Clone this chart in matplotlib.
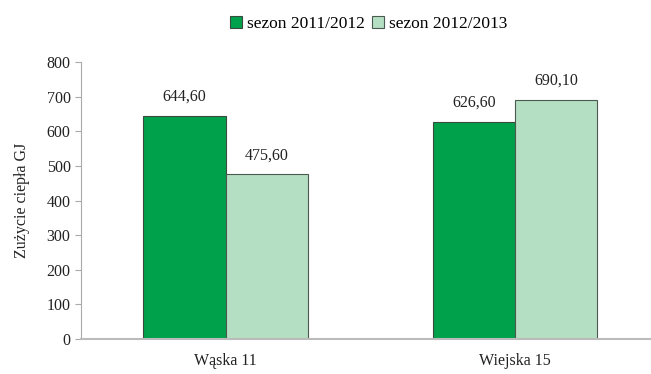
import matplotlib
matplotlib.use("Agg")
import matplotlib.pyplot as plt
import numpy as np

# ---- data --------------------------------------------------------------
categories = ["Wąska 11", "Wiejska 15"]
season_2011 = [644.60, 626.60]
season_2012 = [475.60, 690.10]
series_labels = ["sezon 2011/2012", "sezon 2012/2013"]
y_ticks = [0, 100, 200, 300, 400, 500, 600, 700, 800]

plt.rcParams["font.family"] = ["Liberation Serif", "DejaVu Serif"]

fig = plt.figure(figsize=(6.51, 3.74), dpi=100)
ax = fig.add_axes([0.1244, 0.0936, 0.8756, 0.7406])

x = np.arange(len(categories))
w = 0.285
b1 = ax.bar(x - w / 2, season_2011, width=w, color="#00a14b", edgecolor="#3a4a3f",
            linewidth=0.8, label=series_labels[0])
b2 = ax.bar(x + w / 2, season_2012, width=w, color="#b5dfc2", edgecolor="#4a5a50",
            linewidth=0.8, label=series_labels[1])

for bars, vals in ((b1, season_2011), (b2, season_2012)):
    for rect, v in zip(bars, vals):
        ax.annotate(f"{v:.2f}".replace(".", ","),
                    (rect.get_x() + rect.get_width() / 2, v),
                    xytext=(0, 8), textcoords="offset points",
                    ha="center", va="bottom", fontsize=11.5, color="#222222")

ax.set_xlim(-0.5, 1.47)
ax.set_ylim(0, 800)
ax.set_yticks(y_ticks)
ax.set_xticks(x)
ax.set_xticklabels(categories)
ax.tick_params(axis="x", length=0, pad=10, labelsize=11.5, colors="#222222")
ax.tick_params(axis="y", length=4, color="#aaaaaa", labelsize=11.5, labelcolor="#222222")
for s in ("top", "right"):
    ax.spines[s].set_visible(False)
ax.spines["left"].set_color("#aaaaaa")
ax.spines["bottom"].set_color("#bbbbbb")
ax.spines["bottom"].set_linewidth(1.5)
ax.set_ylabel("Zużycie ciepła GJ", fontsize=11.5, color="#222222", labelpad=12)

fig.legend(loc="upper center", bbox_to_anchor=(0.566, 1.0), ncol=2, frameon=False,
           fontsize=12.5, handlelength=0.7, handleheight=0.7, handletextpad=0.3,
           columnspacing=0.4)

fig.savefig("out.png", dpi=100)
